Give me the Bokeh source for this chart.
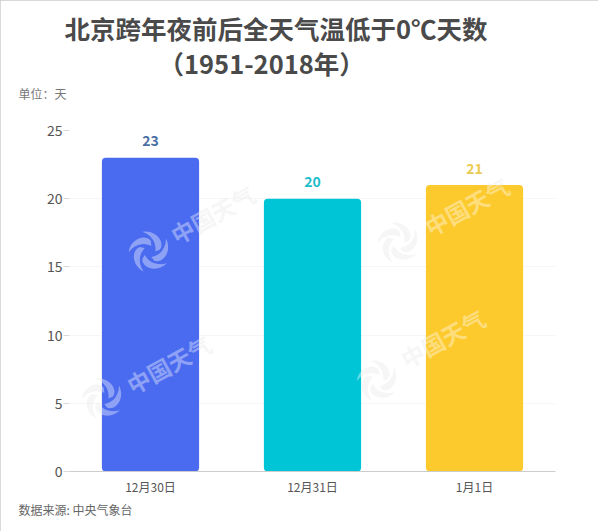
import math
from bokeh.plotting import figure
from bokeh.embed import file_html
from bokeh.resources import INLINE
from bokeh.models import ColumnDataSource, Label, FixedTicker, Range1d, PolyAnnotation, Title
from bokeh.core.properties import value

categories = ["12月30日", "12月31日", "1月1日"]
days = [23, 20, 21]
bar_colors = ["#4a6aef", "#00c5d6", "#fdca2e"]
label_colors = ["#4a6fa5", "#1cbcc9", "#eccb52"]
y_ticks = [0, 5, 10, 15, 20, 25]
font = "Noto Sans CJK SC"

W, H = 598, 531
FL, FT, FR, FB = 69, 130, 555, 471

src = ColumnDataSource(dict(x=categories, top=days, color=bar_colors,
                            lc=label_colors, t=[str(d) for d in days]))

p = figure(width=W, height=H, x_range=categories, y_range=Range1d(0, 25),
           output_backend="svg", toolbar_location=None,
           min_border_left=FL, min_border_right=W-FR, min_border_top=FT, min_border_bottom=H-FB,
           styles={"outline": "1px solid #cccccc", "outline-offset": "-1px"})
p.background_fill_color = "white"
p.outline_line_color = None
p.xgrid.visible = False
p.ygrid.grid_line_color = "#f6f6f6"

p.vbar(x="x", top="top", bottom=0, width=0.6, fill_color="color", line_color=None,
       border_radius=4, source=src)
p.text(x="x", y="top", text="t", text_color="lc", text_align="center", text_baseline="middle",
       y_offset=-17, text_font=value(font), text_font_size="14px", text_font_style="bold", source=src)

p.yaxis.ticker = FixedTicker(ticks=y_ticks)
p.yaxis.axis_line_color = None
p.yaxis.major_tick_line_color = "#d8d8d8"
p.yaxis.major_tick_in = 0
p.yaxis.major_tick_out = 6
p.yaxis.minor_tick_line_color = None
p.yaxis.major_label_text_font = font
p.yaxis.major_label_text_font_size = "14px"
p.yaxis.major_label_text_color = "#555555"
p.yaxis.major_label_standoff = 1

p.xaxis.axis_line_color = "#cccccc"
p.xaxis.major_tick_line_color = None
p.xaxis.minor_tick_line_color = None
p.xaxis.major_label_text_font = font
p.xaxis.major_label_text_font_size = "12px"
p.xaxis.major_label_text_color = "#555555"
p.xaxis.major_label_standoff = 0

def note(text, x, y, size, color, style="normal", angle=0.0, alpha=1.0, level="annotation"):
    p.add_layout(Label(x=x-FL, y=FB-y, x_units="screen", y_units="screen", text=text,
                       text_font=font, text_font_size=size, text_color=color,
                       text_font_style=style, text_baseline="middle", angle=angle,
                       text_alpha=alpha, level=level))

def swirl(cx, cy, color, alpha, level):
    for k in range(5):
        a0 = math.radians(72 * k)
        ts = [i / 10 for i in range(11)]
        outer = [(a0 + math.radians(110) * t, 6 + 15 * t ** 0.5) for t in ts]
        inner = [(a0 + math.radians(110) * t, 6 + 15 * t ** 2.2) for t in reversed(ts)]
        pts = outer + inner
        p.add_layout(PolyAnnotation(
            xs=[cx - FL + r * math.cos(a) for a, r in pts],
            ys=[FB - cy + r * math.sin(a) for a, r in pts],
            xs_units="screen", ys_units="screen", editable=False,
            fill_color=color, fill_alpha=alpha, line_color=None, level=level))

marks = [(149, 251, 172, 236), (102, 398, 128, 386), (398, 242, 426, 228), (377, 380, 402, 360)]
for lx, ly, tx, ty in marks:
    for color, alpha, level in [("#9a9a9a", 0.14, "underlay"), ("#ffffff", 0.38, "annotation")]:
        swirl(lx, ly, color, alpha, level)
        note("中国天气", tx, ty, "23px", color, "bold", math.radians(29), alpha, level)

def title(text, x, size, color, style, standoff, side="above"):
    p.add_layout(Title(text=text, align="left", offset=x-FL, standoff=standoff,
                       text_font=font, text_font_size=size, text_color=color,
                       text_font_style=style), side)

title(" ", 18, "12px", "#777777", "normal", 5)
title("单位：天", 18, "12px", "#777777", "normal", 10)
title("（1951-2018年）", 158, "25.5px", "#4a4a4a", "bold", -7)
title("北京跨年夜前后全天气温低于0℃天数", 64, "25.5px", "#4a4a4a", "bold", 0)
title("数据来源: 中央气象台", 18, "12px", "#666666", "normal", 3, "below")

open("out.html", "w").write(file_html(p, INLINE))
